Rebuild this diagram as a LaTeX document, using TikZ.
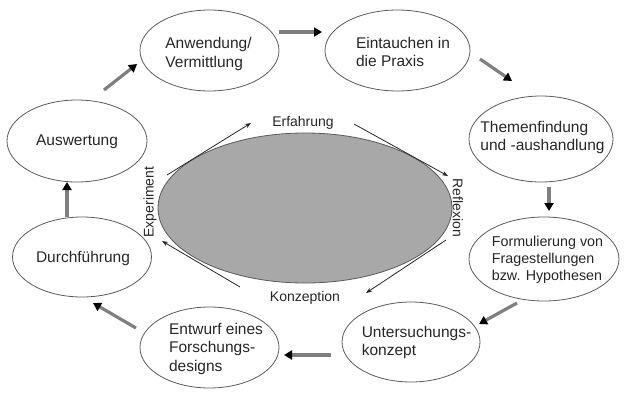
\documentclass[tikz,border=0pt]{standalone}
\usepackage{fontspec}
\setmainfont{Liberation Sans}
\usetikzlibrary{shapes.geometric,arrows.meta}
\definecolor{txt}{HTML}{262626}
\definecolor{outl}{HTML}{5A5A5A}
\definecolor{fillg}{HTML}{A8A8A8}
\definecolor{shaft}{HTML}{7F7F7F}
\tikzset{
  phase/.style={ellipse, draw=outl, line width=0.8pt, inner sep=0pt},
  phasetext/.style={align=left, text=txt, inner sep=0pt, font=\fontsize{15.5}{18.5}\selectfont},
  bigarrow/.style={draw=shaft, line width=3.2pt, -{Triangle[length=8pt,width=9pt,color=black]}},
  thinarrow/.style={draw=black!85, line width=0.8pt, -{Stealth[length=6pt,width=4.5pt]}},
  small/.style={text=txt, font=\fontsize{14}{16}\selectfont, inner sep=0pt}
}
\begin{document}
\begin{tikzpicture}[x=1pt,y=-1pt]
\useasboundingbox (0,0) rectangle (627,400);
% central ellipse
\node[ellipse, draw=outl, fill=fillg, line width=0.8pt, minimum width=294pt, minimum height=150pt, inner sep=0pt] (core) at (305,208) {};
% outer phases
\node[phase, minimum width=139pt, minimum height=81pt,
  label={[phasetext, xshift=-1pt, yshift=-3.5pt]center:{Anwendung/\\Vermittlung}}] (anw) at (209.5,50.5) {};
\node[phase, minimum width=145pt, minimum height=81pt,
  label={[phasetext, xshift=5.5pt, yshift=-1.5pt]center:{Eintauchen in\\die Praxis}}] (ein) at (397.5,50.5) {};
\node[phase, minimum width=144pt, minimum height=86pt,
  label={[phasetext, xshift=1.5pt, yshift=1.5pt]center:{Themenfindung\\und -aushandlung}}] (the) at (541,139) {};
\node[phase, minimum width=150pt, minimum height=84pt,
  label={[phasetext, font=\fontsize{14.3}{17}\selectfont, xshift=3.5pt, yshift=-1pt]center:{Formulierung von\\Fragestellungen\\bzw. Hypothesen}}] (for) at (544,259) {};
\node[phase, minimum width=138pt, minimum height=80pt,
  label={[phasetext, xshift=5.5pt, yshift=-0.5pt]center:{Untersuchungs-\\konzept}}] (unt) at (411,342) {};
\node[phase, minimum width=139pt, minimum height=81pt,
  label={[phasetext, xshift=6.5pt, yshift=-1pt]center:{Entwurf eines\\Forschungs-\\designs}}] (ent) at (209.5,347.5) {};
\node[phase, minimum width=139pt, minimum height=80pt,
  label={[phasetext, xshift=1pt, yshift=-1pt]center:{Durchführung}}] (dur) at (82,257) {};
\node[phase, minimum width=140pt, minimum height=82pt,
  label={[phasetext, yshift=-1pt]center:{Auswertung}}] (aus) at (77,141) {};
% cycle labels
\node[small] (erf) at (303,123) {Erfahrung};
\node[small] (kon) at (305,298) {Konzeption};
\node[small, rotate=90] (exp) at (150,202) {Experiment};
\node[small, rotate=-90] (ref) at (458,208) {Reflexion};
% arrow end points
\coordinate (a1s) at (104,90);  \coordinate (a1e) at (137,64);
\coordinate (a2s) at (279,32);  \coordinate (a2e) at (322,32);
\coordinate (a3s) at (480,59);  \coordinate (a3e) at (512,81);
\coordinate (a4s) at (549,187); \coordinate (a4e) at (549,211);
\coordinate (a5s) at (517,303); \coordinate (a5e) at (479,324);
\coordinate (a6s) at (331,355); \coordinate (a6e) at (284,355);
\coordinate (a7s) at (136,328); \coordinate (a7e) at (93,303);
\coordinate (a8s) at (67,217);  \coordinate (a8e) at (67,182);
\coordinate (c1s) at (167,175); \coordinate (c1e) at (251,123);
\coordinate (c2s) at (354,124); \coordinate (c2e) at (448,176);
\coordinate (c3s) at (446,240); \coordinate (c3e) at (366,293);
\coordinate (c4s) at (240,287); \coordinate (c4e) at (162,241);
% outer cycle arrows
\draw[bigarrow] (a1s) -- (a1e);
\draw[bigarrow] (a2s) -- (a2e);
\draw[bigarrow] (a3s) -- (a3e);
\draw[bigarrow] (a4s) -- (a4e);
\draw[bigarrow] (a5s) -- (a5e);
\draw[bigarrow] (a6s) -- (a6e);
\draw[bigarrow] (a7s) -- (a7e);
\draw[bigarrow] (a8s) -- (a8e);
% inner cycle arrows
\draw[thinarrow] (c1s) -- (c1e);
\draw[thinarrow] (c2s) -- (c2e);
\draw[thinarrow] (c3s) -- (c3e);
\draw[thinarrow] (c4s) -- (c4e);
\end{tikzpicture}
\end{document}
